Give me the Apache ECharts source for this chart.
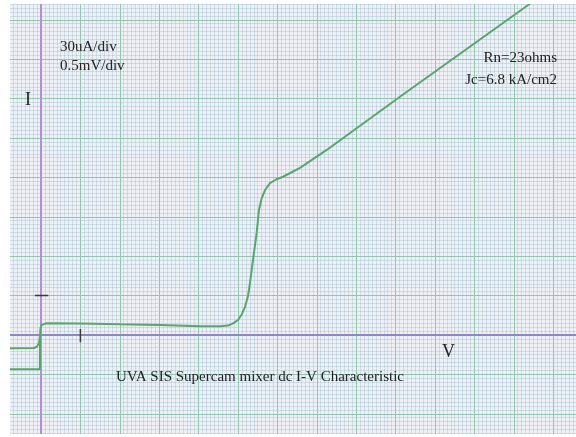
<!DOCTYPE html>
<html>
<head>
<meta charset="utf-8">
<title>UVA SIS Supercam mixer dc I-V Characteristic</title>
<script src="https://cdn.jsdelivr.net/npm/echarts@6/dist/echarts.min.js"></script>
<style>
  html, body { margin: 0; padding: 0; background: #ffffff; width: 576px; height: 437px; overflow: hidden; position: relative; }
  /* the chart canvas is a little larger than the page so the grid paper runs off the edges */
  #chart { position: absolute; left: -24px; top: -24px; width: 624px; height: 485px; }
</style>
</head>
<body>
<div id="chart"></div>
<script>
// Bias voltage (mV) and current (uA) along the main I-V trace
const voltageMain = [-0.393, -0.089, -0.051, -0.025, -0.013, -0.006, 0.006, 0.025, 0.063, 0.495,
  1.003, 1.510, 2.018, 2.272, 2.373, 2.437, 2.500, 2.551, 2.589, 2.627,
  2.652, 2.690, 2.737, 2.766, 2.801, 2.843, 2.906, 2.982, 3.071, 3.287,
  3.626, 4.555, 6.218];
const currentMain = [-10.1, -9.9, -8.8, -6.1, -0.8, 5.3, 7.6, 8.6, 8.9, 8.8,
  8.1, 7.6, 6.6, 6.6, 7.2, 8.9, 11.4, 16.0, 21.5, 29.7,
  39.6, 57.1, 77.7, 95.2, 104.3, 110.4, 115.7, 118.4, 120.5, 127.2,
  140.9, 181.4, 252.8];

// Lower negative-bias branch
const voltageLower = [-0.393, -0.016, -0.013, -0.013];
const currentLower = [-26.1, -26.1, -24.5, -2.0];

// Scale: 0.5 mV and 30 uA per division
const voltageDiv = 0.5;
const currentDiv = 30;
const voltageRange = [-0.5, 7.0];
const currentRange = [-90, 270];

// Single reference ticks on each axis (one division from the origin)
const currentTick = 30;
const voltageTick = 0.5;

const zip = (xs, ys) => xs.map((x, i) => [x, ys[i]]);

// page offset of the canvas inside the window
const OX = 24, OY = 24;

const gridMajor = '#93c6ae';
const gridMinor = 'rgba(140, 176, 192, 0.32)';
const traceColor = '#58a56e';
const serif = "'Liberation Serif', 'DejaVu Serif', 'Times New Roman', serif";

const chart = echarts.init(document.getElementById('chart'), null, { renderer: 'canvas' });

const axisCommon = {
  type: 'value',
  axisTick: { show: false },
  axisLabel: { show: false },
  splitLine: { show: true, lineStyle: { color: gridMajor, width: 1 } },
  minorTick: { show: false, splitNumber: 10 },
  minorSplitLine: { show: true, lineStyle: { color: gridMinor, width: 1 } }
};

const text = (x, y, str, size, align) => ({
  type: 'text',
  x: x + OX, y: y + OY,
  style: { text: str, font: size + 'px ' + serif, fill: '#222', align: align || 'left', verticalAlign: 'middle' },
  z: 110
});

chart.setOption({
  backgroundColor: '#ffffff',
  animation: false,
  grid: {
    left: 1.6 + OX, right: 7.4, top: 4.4, bottom: 7.8,
    show: true, backgroundColor: '#eef0f6', borderWidth: 0
  },
  xAxis: Object.assign({}, axisCommon, {
    min: voltageRange[0], max: voltageRange[1], interval: voltageDiv,
    axisLine: { show: true, onZero: true, lineStyle: { color: '#8e87c2', width: 2 } }
  }),
  yAxis: Object.assign({}, axisCommon, {
    min: currentRange[0], max: currentRange[1], interval: currentDiv,
    axisLine: { show: true, onZero: true, lineStyle: { color: '#b48fd4', width: 2 } }
  }),
  series: [
    {
      type: 'line', data: zip(voltageMain, currentMain), symbol: 'none',
      lineStyle: { color: traceColor, width: 2 }, z: 5
    },
    {
      type: 'line', data: zip(voltageLower, currentLower), symbol: 'none',
      lineStyle: { color: traceColor, width: 2 }, z: 5
    },
    {
      type: 'line', data: [[-0.077, currentTick], [0.092, currentTick]], symbol: 'none',
      lineStyle: { color: '#3a3a3a', width: 1.5 }, z: 6
    },
    {
      type: 'line', data: [[voltageTick, 4.5], [voltageTick, -5.5]], symbol: 'none',
      lineStyle: { color: '#3a3a3a', width: 1.5 }, z: 6
    }
  ],
  graphic: [
    // white paper margins
    { type: 'rect', x: 0, y: 0, shape: { width: 10 + OX, height: 485 }, style: { fill: '#ffffff' }, z: 100 },
    { type: 'rect', x: 0, y: 0, shape: { width: 624, height: 4 + OY }, style: { fill: '#ffffff' }, z: 100 },
    { type: 'rect', x: 0, y: 434 + OY, shape: { width: 624, height: 30 }, style: { fill: '#ffffff' }, z: 100 },
    // annotations
    text(60, 47, '30uA/div', 15),
    text(60, 66, '0.5mV/div', 15),
    text(25, 100, 'I', 18),
    text(557, 58, 'Rn=23ohms', 15, 'right'),
    text(557, 80, 'Jc=6.8 kA/cm2', 15, 'right'),
    text(442, 352, 'V', 18),
    text(116, 377, 'UVA SIS Supercam mixer dc I-V Characteristic', 15)
  ]
});
</script>
</body>
</html>
